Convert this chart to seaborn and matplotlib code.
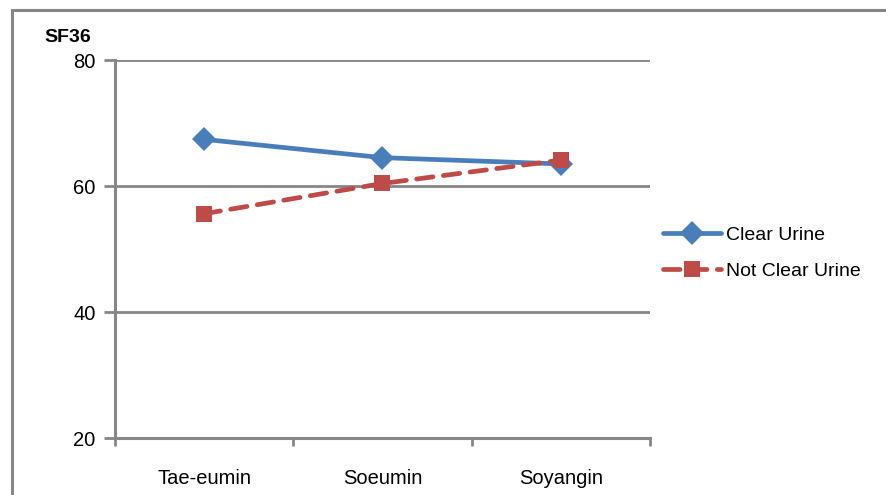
import pandas as pd
import numpy as np
import matplotlib.pyplot as plt
import matplotlib.patches as mpatches
import seaborn as sns

# data
groups = ["Tae-eumin", "Soeumin", "Soyangin"]
clear_urine = [67.4, 64.5, 63.5]
not_clear_urine = [55.6, 60.4, 64.1]
yticks = [20, 40, 60, 80]

df = pd.DataFrame({
    "group": groups * 2,
    "SF36": clear_urine + not_clear_urine,
    "urine": ["Clear Urine"] * 3 + ["Not Clear Urine"] * 3,
})

sns.set_style("white")
plt.rcParams['font.family'] = ['Liberation Sans Narrow', 'Liberation Sans', 'DejaVu Sans']
plt.rcParams['text.color'] = 'black'
plt.rcParams['xtick.color'] = 'black'
plt.rcParams['ytick.color'] = 'black'

fig = plt.figure(figsize=(8.87, 4.95), dpi=100)
ax = fig.add_axes([115/887, 57/495, 535/887, 378/495])

grid_col = "#868686"
for v in yticks[1:]:
    ax.axhline(v, color=grid_col, lw=2, zorder=0)

sns.lineplot(data=df, x="group", y="SF36", hue="urine", style="urine",
             palette=["#4A7EBB", "#BE4B48"], markers=["D", "s"],
             dashes=[(None, None), (3.5, 2.2)], linewidth=3.4,
             markersize=12, markeredgewidth=0, ax=ax, zorder=3, sort=False,
             dash_capstyle="round")

ax.set_xlim(-0.5, 2.5)
ax.set_ylim(20, 80)
ax.set_yticks(yticks)
ax.set_xticks(range(3))
ax.set_xticks([-0.5, 0.5, 1.5, 2.5], minor=True)
ax.set_xticklabels(groups)
ax.tick_params(axis="x", which="major", bottom=True, length=0, pad=22, labelsize=14.5)
ax.tick_params(axis="x", which="minor", bottom=True, length=6, width=2, color=grid_col, direction="out")
ax.tick_params(axis="y", left=True, length=8, width=2, color=grid_col, direction="out", labelsize=14.5, pad=6)
ax.set_xlabel("")
ax.set_ylabel("")
for s in ["top", "right"]:
    ax.spines[s].set_visible(False)
for s in ["left", "bottom"]:
    ax.spines[s].set_color(grid_col)
    ax.spines[s].set_linewidth(2.2)

fig.text(44/887, 1 - 38/495, "SF36", fontsize=14, fontweight="bold", va="center", ha="left")

handles, labels = ax.get_legend_handles_labels()
ax.legend(handles, labels, loc="center left", bbox_to_anchor=(655/887, 1 - 253/495),
          bbox_transform=fig.transFigure, frameon=False, fontsize=14,
          handlelength=3.0, labelspacing=0.95, handletextpad=0.25, borderaxespad=0)

# outer chart frame
frame = mpatches.Rectangle((12/887, -0.1), 1.2, 1 - 10/495 + 0.1, transform=fig.transFigure,
                           fill=False, edgecolor=grid_col, linewidth=2.2, clip_on=False)
fig.patches.append(frame)

fig.savefig("out.png", dpi=100)
